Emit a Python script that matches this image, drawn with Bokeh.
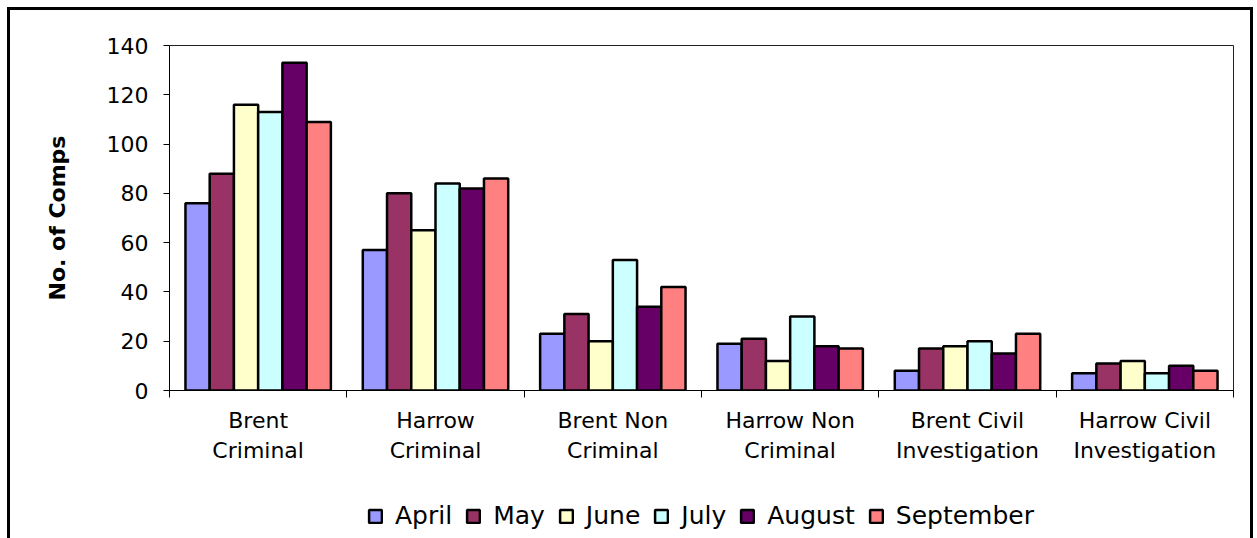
from bokeh.plotting import figure
from bokeh.layouts import column
from bokeh.models import Range1d, FixedTicker, Legend, LegendItem
from bokeh.embed import file_html
from bokeh.resources import INLINE

# ---- data ----
categories = ["Brent\nCriminal", "Harrow\nCriminal", "Brent Non\nCriminal",
              "Harrow Non\nCriminal", "Brent Civil\nInvestigation", "Harrow Civil\nInvestigation"]
months = ["April", "May", "June", "July", "August", "September"]
april = [76, 57, 23, 19, 8, 7]
may = [88, 80, 31, 21, 17, 11]
june = [116, 65, 20, 12, 18, 12]
july = [113, 84, 53, 30, 20, 7]
august = [133, 82, 34, 18, 15, 10]
september = [109, 86, 42, 17, 23, 8]
series = [april, may, june, july, august, september]
colors = ["#9999FF", "#993366", "#FFFFCC", "#CCFFFF", "#660066", "#FF8080"]
y_ticks = [0, 20, 40, 60, 80, 100, 120, 140]

FONT = "DejaVu Sans"
n_cat = len(categories)
bar_w = 0.82 / len(months)

p = figure(width=1240, height=470, output_backend="svg", toolbar_location=None,
           x_range=Range1d(0, n_cat), y_range=Range1d(0, 140),
           min_border_left=159, min_border_right=17, min_border_top=35, min_border_bottom=90)
p.background_fill_color = "white"
p.border_fill_color = "white"
p.outline_line_color = "#222222"
p.outline_line_width = 1
p.xgrid.visible = False
p.ygrid.visible = False

for j, (m, vals, c) in enumerate(zip(months, series, colors)):
    xs = [i + 0.5 + (j - (len(months) - 1) / 2) * bar_w for i in range(n_cat)]
    p.vbar(x=xs, top=vals, bottom=0, width=bar_w, fill_color=c,
           line_color="black", line_width=2.5)

# y axis
ya = p.yaxis[0]
ya.ticker = FixedTicker(ticks=y_ticks)
ya.major_label_text_font = FONT
ya.major_label_text_font_size = "22px"
ya.major_label_text_color = "black"
ya.major_tick_out = 6
ya.major_tick_in = 0
ya.major_label_standoff = 15
ya.minor_tick_line_color = None
ya.axis_line_color = "black"
ya.major_tick_line_color = "black"
ya.axis_label = "No. of Comps"
ya.axis_label_text_font = FONT
ya.axis_label_text_font_style = "bold"
ya.axis_label_text_font_size = "22px"
ya.axis_label_text_color = "black"
ya.axis_label_standoff = 34

# x axis
xa = p.xaxis[0]
centers = [i + 0.5 for i in range(n_cat)]
bounds = [float(i) for i in range(n_cat + 1)]
xa.ticker = FixedTicker(ticks=centers, minor_ticks=bounds)
overrides = {}
for cval, lab in zip(centers, categories):
    overrides[cval] = lab
    overrides[str(cval)] = lab
xa.major_label_overrides = overrides
xa.major_tick_line_color = None
xa.major_tick_out = 0
xa.major_tick_in = 0
xa.minor_tick_out = 7
xa.minor_tick_in = 0
xa.minor_tick_line_color = "black"
xa.axis_line_color = "black"
xa.major_label_text_font = FONT
xa.major_label_text_font_size = "22px"
xa.major_label_text_color = "black"
xa.major_label_text_line_height = 1.23
xa.major_label_standoff = 10

# legend strip below the chart (its frame is aligned with the chart's frame)
p2 = figure(width=1240, height=58, output_backend="svg", toolbar_location=None,
            x_axis_type=None, y_axis_type=None, min_border=0,
            x_range=Range1d(0, 1), y_range=Range1d(0, 1))
p2.outline_line_color = None
p2.background_fill_color = "white"
p2.border_fill_color = "white"
p2.xgrid.visible = False
p2.ygrid.visible = False
items = []
nan = float("nan")
for m, c in zip(months, colors):
    # proxy glyph with no drawable value; only its legend swatch shows
    r = p2.vbar(x=[0.5], top=[nan], bottom=[nan], width=0.1, fill_color=c,
                line_color="black", line_width=2.5)
    items.append(LegendItem(label=m, renderers=[r]))

legend = Legend(items=items, orientation="horizontal", location=(198, 8),
                glyph_width=16, glyph_height=16, label_standoff=12, spacing=13,
                padding=0, margin=0, border_line_color=None,
                background_fill_alpha=0,
                label_text_font=FONT, label_text_font_size="25px",
                label_text_color="black")
p2.add_layout(legend)

layout = column(p, p2, spacing=0,
                styles={"margin": "10px 0px 0px 10px", "outline": "3px solid black"})

open("out.html", "w").write(file_html(layout, INLINE))
